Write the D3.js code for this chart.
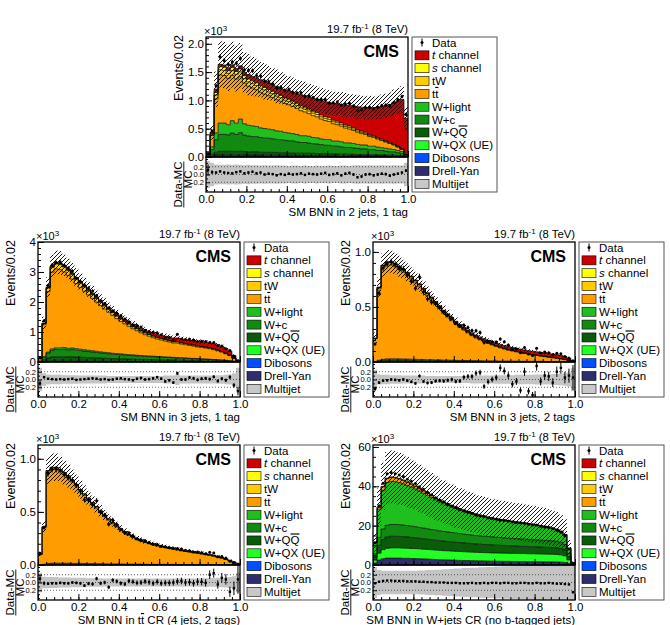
<!DOCTYPE html>
<html>
<head>
<meta charset="utf-8">
<script src="https://cdn.jsdelivr.net/npm/d3@7"></script>
<style>
  body { margin: 0; background: #fff; }
  svg { font-family: "Liberation Sans", Arial, sans-serif; }
</style>
</head>
<body>
<svg id="chart" width="670" height="625"></svg>
<script>
// ---------- categories / legend ----------
const compKeys = ["tch", "sch", "tw", "tt", "wlight", "wc", "wqq", "wqx", "vv", "dy", "qcd"];
const compColors = ["#cc0000", "#ffff00", "#ffcc00", "#ff9d00", "#1fbf1f", "#128a12", "#0a5c0a", "#22ff22", "#0050ff", "#2e2e6e", "#c8c8c8"];
const legendLabels = [
  [["Data"]], [["t", "i"], [" channel"]], [["s", "i"], [" channel"]], [["tW"]], [["t"], ["t", "o"]],
  [["W+light"]], [["W+c"]], [["W+Q"], ["Q", "o"]], [["W+QX (UE)"]], [["Dibosons"]], [["Drell-Yan"]], [["Multijet"]]
];
const xTicks = [0, 0.2, 0.4, 0.6, 0.8, 1.0];
const ratioTicks = [-0.2, 0, 0.2];

// ---------- panel 1: 2 jets, 1 tag (events per bin) ----------
const p1_tch = [5,20,60,40,40,45,45,50,55,60,80,80,90,105,110,115,120,130,135,145,150,155,170,195,200,215,230,235,260,265,270,300,310,330,355,365,385,405,425,435,475,490,535,575,620,670,730,800,870,640];
const p1_sch = [2,15,45,55,55,52,55,50,52,50,48,48,46,45,44,43,42,41,40,39,38,37,36,35,34,33,32,31,30,29,28,27,26,25,24,23,22,21,20,19,18,17,16,15,14,13,12,10,8,2];
const p1_tw = [3,20,70,92,90,88,87,84,83,80,78,77,74,72,71,68,66,65,62,60,59,56,54,53,50,48,47,44,42,41,38,36,35,32,30,29,26,24,23,20,18,17,14,12,11,9,8,6,4,1];
const p1_tt = [15,200,600,850,840,820,800,780,750,720,690,670,650,630,610,590,570,550,530,510,500,480,460,440,420,400,385,370,350,335,320,305,290,275,260,245,230,215,200,185,170,155,140,125,110,95,80,60,40,12];
const p1_wlight = [10,50,120,200,200,180,220,200,240,200,190,190,180,170,170,160,160,150,150,140,140,130,130,120,120,120,110,110,100,100,100,90,90,90,80,80,80,70,70,70,60,60,60,50,50,50,40,40,30,10];
const p1_wc = [10,80,220,300,300,290,320,300,330,290,280,270,270,260,250,250,240,230,230,220,210,210,200,190,190,180,170,170,160,150,150,140,140,130,120,120,110,110,100,100,90,90,80,80,70,60,60,50,40,10];
const p1_wqq = [5,30,50,60,60,60,62,60,62,60,55,55,55,50,50,50,50,50,45,45,45,45,40,40,40,40,40,35,35,35,35,30,30,30,30,30,30,25,25,25,25,25,20,20,20,20,20,15,15,5];
const p1_dy = [5,20,35,40,40,40,40,38,38,37,36,35,35,34,33,32,32,31,30,30,29,28,28,27,26,26,25,24,24,23,22,22,21,20,20,19,19,18,18,17,16,16,15,15,14,13,12,11,10,4];
const p1_ratio = [0.12,0.06,0.05,0.08,0.05,0.04,0.03,0.06,0.08,0.03,0.05,0.07,0.03,0.05,0.0,0.02,0.01,-0.02,0.01,-0.01,0.02,0.0,0.01,0.03,-0.01,0.02,0.01,0.0,0.02,0.04,-0.01,0.01,0.03,-0.02,0.02,0.04,0.0,-0.07,-0.05,0.0,0.01,-0.02,0.0,0.02,0.01,-0.03,0.0,0.02,0.05,0.1];
const p1_unc = [0.35,0.3,0.26,0.25,0.25,0.26,0.25,0.26,0.25,0.24,0.25,0.24,0.24,0.23,0.24,0.23,0.23,0.24,0.23,0.23,0.22,0.23,0.23,0.22,0.23,0.22,0.22,0.23,0.22,0.22,0.23,0.22,0.22,0.23,0.23,0.22,0.23,0.24,0.23,0.23,0.24,0.23,0.23,0.24,0.23,0.23,0.24,0.23,0.23,0.3];

// ---------- panel 2: 3 jets, 1 tag ----------
const p2_tch = [2,10,20,25,25,30,30,30,30,35,35,35,40,40,40,45,45,50,50,55,55,60,65,70,70,75,80,85,90,95,100,105,110,115,120,125,130,135,140,150,155,160,165,170,170,165,155,130,90,25];
const p2_sch = [1,8,15,20,22,22,22,21,21,20,20,19,18,18,17,17,16,16,15,15,14,14,13,13,12,12,12,11,11,11,10,10,10,10,9,9,9,9,8,8,8,8,7,7,7,6,5,4,3,1];
const p2_tw = [3,40,120,160,170,170,165,160,155,150,140,135,128,120,115,108,100,95,90,85,80,76,72,68,64,60,57,54,51,48,46,44,42,40,39,37,35,34,32,31,29,27,25,23,21,19,16,12,7,2];
const p2_tt = [116,1067,2015,2560,2633,2608,2523,2432,2298,2171,2059,1952,1843,1748,1642,1541,1448,1350,1264,1164,1081,1014,946,873,818,756,703,660,613,580,557,532,504,480,486,457,442,427,410,387,383,367,350,327,297,265,219,173,95,25];
const p2_wlight = [3,20,40,50,55,55,55,52,52,50,48,46,44,42,40,38,36,34,32,30,29,28,27,26,25,24,23,22,21,20,19,18,17,16,15,15,14,13,12,12,11,10,10,9,8,7,6,5,3,1];
const p2_wc = [10,80,160,220,240,240,250,235,245,230,220,210,200,190,180,170,160,155,145,140,135,125,120,115,110,105,100,95,95,90,85,80,80,75,70,68,65,60,58,55,50,48,45,40,36,32,27,20,12,3];
const p2_wqq = [10,60,110,140,150,150,150,145,145,140,135,130,125,120,115,110,105,100,95,92,88,85,80,78,75,72,70,68,65,62,60,58,55,52,50,48,45,42,40,38,35,32,30,27,24,20,17,12,7,2];
const p2_dy = [5,15,20,25,25,25,25,25,24,24,23,23,22,22,21,21,20,20,19,19,18,18,17,17,16,16,15,15,14,14,13,13,12,12,11,11,10,10,10,9,9,8,8,7,7,6,5,4,3,1];
const p2_ratio = [-0.1,0.06,0.02,0.01,0.0,0.01,0.0,0.01,0.02,-0.01,0.0,0.01,0.02,0.03,0.02,0.0,0.01,-0.01,0.0,0.02,0.03,0.01,0.0,-0.02,0.02,0.04,0.0,0.01,0.03,0.06,0.02,-0.05,-0.02,-0.08,0.16,0.0,0.0,0.05,0.03,-0.01,0.02,0.03,0.01,0.07,-0.04,0.02,-0.02,0.06,-0.15,-0.3];
const p2_unc = [0.3,0.16,0.13,0.12,0.12,0.12,0.11,0.11,0.11,0.11,0.1,0.1,0.1,0.1,0.1,0.1,0.1,0.09,0.09,0.09,0.09,0.09,0.09,0.09,0.09,0.09,0.09,0.09,0.09,0.09,0.09,0.1,0.1,0.1,0.14,0.1,0.1,0.1,0.1,0.1,0.1,0.1,0.1,0.1,0.11,0.11,0.12,0.13,0.16,0.3];

// ---------- panel 3: 3 jets, 2 tags ----------
const p3_tch = [0,2,3,4,4,5,5,5,6,6,6,7,7,8,8,9,10,10,11,12,13,14,15,16,17,18,19,20,21,22,23,24,25,26,26,27,27,28,28,29,29,30,30,30,30,29,27,24,17,5];
const p3_sch = [0,2,4,5,5,5,5,5,5,4,4,4,4,4,4,3,3,3,3,3,3,3,2,2,2,2,2,2,2,2,2,2,2,2,2,1,1,1,1,1,1,1,1,1,1,1,1,1,1,0];
const p3_tw = [3,12,18,20,20,20,19,19,18,17,17,16,15,15,14,13,12,12,11,10,10,9,8,8,7,7,6,6,6,5,5,5,5,4,4,4,4,4,3,3,3,3,3,3,3,2,2,2,1,0];
const p3_tt = [208,648,831,853,852,836,812,789,759,728,693,660,621,582,543,506,466,428,393,359,329,300,276,251,227,206,190,174,158,145,133,121,110,100,92,85,79,71,65,58,53,47,43,39,34,30,24,18,13,5];
const p3_wc = [2,8,12,14,14,14,14,13,13,12,12,11,11,10,10,9,9,8,8,8,7,7,7,6,6,6,5,5,5,5,4,4,4,4,4,3,3,3,3,3,3,3,2,2,2,2,2,1,1,0];
const p3_wqq = [2,8,12,14,15,15,15,14,14,13,13,12,12,11,11,10,10,9,9,8,8,7,7,7,6,6,6,5,5,5,5,4,4,4,4,4,3,3,3,3,3,3,3,2,2,2,2,2,1,0];
const p3_ratio = [-0.24,-0.08,-0.03,-0.02,0.0,-0.01,-0.02,0.0,-0.03,-0.06,-0.1,0.09,-0.05,-0.09,-0.08,-0.04,-0.03,-0.04,-0.02,0.0,-0.05,-0.04,0.06,0.08,0.08,0.16,0.18,-0.18,-0.06,0.0,0.05,0.3,0.22,0.1,-0.12,-0.05,-0.28,0.2,-0.3,-0.4,0.35,-0.05,0.1,0.08,-0.08,0.2,0.3,0.05,0.1,0.05];
const p3_unc = [0.25,0.13,0.12,0.12,0.11,0.11,0.11,0.1,0.1,0.1,0.1,0.1,0.1,0.09,0.09,0.09,0.09,0.09,0.09,0.09,0.09,0.09,0.09,0.09,0.1,0.1,0.1,0.1,0.1,0.1,0.11,0.11,0.11,0.11,0.11,0.12,0.12,0.12,0.12,0.12,0.13,0.13,0.13,0.13,0.14,0.14,0.15,0.16,0.18,0.3];

// ---------- panel 4: ttbar CR (4 jets, 2 tags) ----------
const p4_tch = [0,1,1,1,1,1,2,2,2,2,2,2,2,3,3,3,3,3,3,4,4,4,4,4,5,5,5,5,5,6,6,6,6,6,6,7,7,7,7,7,7,7,7,7,7,6,6,5,3,1];
const p4_tw = [2,6,16,18,18,18,17,17,16,15,14,14,13,12,11,11,10,9,9,8,8,7,7,6,6,6,5,5,5,5,5,4,4,4,4,4,4,4,3,3,3,3,3,3,3,2,2,2,1,0];
const p4_tt = [96,347,858,884,884,864,834,804,767,728,679,640,602,562,524,484,446,413,378,348,319,296,271,252,231,216,205,194,184,173,164,157,149,142,136,128,123,117,112,106,100,93,86,78,69,61,49,36,22,7];
const p4_wc = [1,3,8,9,9,9,9,9,8,8,8,7,7,7,6,6,6,5,5,5,5,4,4,4,4,4,4,3,3,3,3,3,3,3,3,3,2,2,2,2,2,2,2,2,2,2,2,1,1,0];
const p4_wqq = [1,3,7,8,8,8,8,8,7,7,7,7,6,6,6,6,5,5,5,5,4,4,4,4,4,4,3,3,3,3,3,3,3,3,2,2,2,2,2,2,2,2,2,2,2,1,1,1,1,0];
const p4_ratio = [0.1,-0.02,-0.03,-0.02,-0.02,-0.01,-0.02,-0.02,0.0,-0.01,-0.02,-0.08,-0.03,-0.04,0.1,-0.02,0.0,-0.12,0.06,0.03,-0.02,-0.04,0.04,0.02,-0.01,0.0,0.03,0.01,-0.02,0.02,-0.02,-0.01,-0.01,0.0,0.03,0.04,0.0,0.01,-0.02,0.02,0.02,-0.01,0.2,0.24,-0.05,0.12,0.08,-0.24,-0.15,0.08];
const p4_unc = [0.25,0.15,0.14,0.14,0.14,0.13,0.13,0.13,0.12,0.12,0.12,0.12,0.11,0.11,0.11,0.11,0.1,0.1,0.1,0.1,0.1,0.1,0.1,0.1,0.1,0.1,0.1,0.1,0.1,0.1,0.1,0.1,0.1,0.1,0.1,0.1,0.1,0.1,0.1,0.1,0.11,0.11,0.11,0.11,0.12,0.12,0.13,0.14,0.16,0.25];

// ---------- panel 5: W+jets CR (no b-tagged jets) ----------
const p5_tw = [30,120,250,300,300,290,280,270,260,250,240,230,220,210,200,190,180,170,160,150,145,140,135,130,125,120,115,110,105,100,95,90,85,80,80,75,75,70,70,65,60,60,55,55,50,50,45,40,20,5];
const p5_tt = [200,1000,1800,2000,2000,1950,1850,1700,1550,1400,1300,1200,1100,1000,950,900,850,800,750,700,650,620,590,560,530,500,480,460,440,420,400,380,360,340,320,300,290,280,270,260,250,240,230,220,210,200,180,150,80,10];
const p5_wlight = [5570,14380,19650,21700,21900,21760,21370,20930,20440,19950,19210,18470,17730,16990,16200,15410,14720,14080,13540,12950,12505,11990,11575,11160,10745,10430,10005,9730,9405,9230,9005,8780,8655,8530,8400,8225,8135,7900,7760,7575,7440,7200,6915,6625,6290,5900,5475,4860,2600,435];
const p5_wc = [1600,4000,5300,5900,6000,6000,5950,5900,5800,5700,5600,5500,5400,5300,5200,5100,5000,4900,4800,4700,4650,4550,4500,4400,4350,4250,4200,4150,4100,4050,4000,3950,3900,3850,3800,3750,3700,3650,3650,3600,3550,3500,3450,3450,3400,3350,3150,2850,1600,200];
const p5_wqq = [1600,4000,5200,5800,5900,5900,5850,5800,5700,5600,5500,5400,5300,5200,5100,5000,4900,4850,4750,4700,4600,4550,4450,4400,4300,4250,4200,4150,4100,4050,4000,3950,3900,3850,3800,3750,3700,3700,3650,3600,3550,3500,3500,3450,3400,3350,3200,2900,1600,200];
const p5_wqx = [1500,3500,4600,5000,5200,5200,5200,5200,5150,5100,5050,5000,4950,4900,4850,4800,4750,4700,4650,4600,4550,4500,4450,4400,4350,4300,4300,4250,4250,4200,4200,4150,4150,4100,4100,4100,4050,4050,4000,4000,4000,3950,3950,3900,3900,3850,3700,3400,1900,250];
const p5_dy = [1000,2500,3200,3500,3500,3500,3500,3400,3400,3300,3300,3200,3100,3000,2900,2800,2700,2600,2550,2500,2400,2350,2300,2250,2200,2150,2100,2050,2000,1950,1900,1900,1850,1850,1800,1800,1750,1750,1700,1700,1650,1650,1600,1600,1550,1500,1450,1300,700,100];
const p5_ratio = [-0.02,0.02,0.04,0.05,0.05,0.04,0.04,0.04,0.03,0.03,0.03,0.02,0.02,0.01,0.01,0.0,0.0,0.0,-0.01,-0.01,-0.01,-0.02,-0.02,-0.02,-0.01,-0.02,-0.02,-0.01,-0.02,-0.01,-0.01,-0.02,-0.01,-0.01,-0.02,-0.02,-0.01,-0.01,-0.02,-0.02,-0.01,-0.02,-0.02,-0.01,-0.02,-0.03,-0.03,-0.04,-0.05,-0.25];
const p5_unc = [0.4,0.32,0.3,0.3,0.3,0.3,0.3,0.3,0.3,0.3,0.3,0.31,0.31,0.32,0.32,0.33,0.33,0.34,0.34,0.35,0.36,0.36,0.37,0.37,0.38,0.38,0.39,0.39,0.4,0.4,0.41,0.41,0.42,0.42,0.43,0.43,0.44,0.44,0.45,0.45,0.46,0.46,0.47,0.47,0.48,0.48,0.49,0.5,0.5,0.5];

// ---------- layout ----------
const nBins = 50, binW = 0.02;
const W = 202, H = 120, RH = 35;
const colorOf = {};
compKeys.forEach((k, i) => colorOf[k] = compColors[i]);
const stackOrder = compKeys.slice().reverse();   // multijet at the bottom, t channel on top

const panels = [
  { left: 206, top: 37, ymax: 2.12, yticks: [0, 0.5, 1, 1.5, 2], yminor: 0.1, yfmt: d => d.toFixed(1),
    title: [["SM BNN in 2 jets, 1 tag"]],
    comps: { tch: p1_tch, sch: p1_sch, tw: p1_tw, tt: p1_tt, wlight: p1_wlight, wc: p1_wc, wqq: p1_wqq, dy: p1_dy },
    ratio: p1_ratio, unc: p1_unc },
  { left: 38, top: 242, ymax: 4.0, yticks: [0, 1, 2, 3, 4], yminor: 0.2, yfmt: d => d.toFixed(0),
    title: [["SM BNN in 3 jets, 1 tag"]],
    comps: { tch: p2_tch, sch: p2_sch, tw: p2_tw, tt: p2_tt, wlight: p2_wlight, wc: p2_wc, wqq: p2_wqq, dy: p2_dy },
    ratio: p2_ratio, unc: p2_unc },
  { left: 373, top: 242, ymax: 1.09, yticks: [0, 0.5, 1], yminor: 0.1, yfmt: d => d.toFixed(1),
    title: [["SM BNN in 3 jets, 2 tags"]],
    comps: { tch: p3_tch, sch: p3_sch, tw: p3_tw, tt: p3_tt, wc: p3_wc, wqq: p3_wqq },
    ratio: p3_ratio, unc: p3_unc },
  { left: 38, top: 445, ymax: 1.13, yticks: [0, 0.5, 1], yminor: 0.1, yfmt: d => d.toFixed(1),
    title: [["SM BNN in t"], ["t", "o"], [" CR (4 jets, 2 tags)"]],
    comps: { tch: p4_tch, tw: p4_tw, tt: p4_tt, wc: p4_wc, wqq: p4_wqq },
    ratio: p4_ratio, unc: p4_unc },
  { left: 373, top: 445, ymax: 61, yticks: [0, 20, 40, 60], yminor: 5, yfmt: d => d.toFixed(0),
    title: [["SM BNN in W+jets CR (no b-tagged jets)"]],
    comps: { tw: p5_tw, tt: p5_tt, wlight: p5_wlight, wc: p5_wc, wqq: p5_wqq, wqx: p5_wqx, dy: p5_dy },
    ratio: p5_ratio, unc: p5_unc }
];

const svg = d3.select("#chart");
const defs = svg.append("defs");
defs.append("pattern").attr("id", "hatch").attr("patternUnits", "userSpaceOnUse")
    .attr("width", 4).attr("height", 4)
  .append("path").attr("d", "M-1,1 l2,-2 M0,4 l4,-4 M3,5 l2,-2")
    .attr("stroke", "#000").attr("stroke-width", 0.9);

function richText(sel, parts) {
  parts.forEach(([t, s]) => {
    const ts = sel.append("tspan").text(t);
    if (s === "i") ts.attr("font-style", "italic");
    if (s === "o") ts.style("text-decoration", "overline");
  });
}

function styleAxis(ax, size) {
  ax.select(".domain").remove();
  ax.attr("font-size", size).attr("font-family", null);
  ax.selectAll("line").attr("stroke-width", 1);
}

function drawPanel(p, n) {
  const g = svg.append("g").attr("transform", `translate(${p.left},${p.top})`);
  const x = d3.scaleLinear().domain([0, 1]).range([0, W]);
  const y = d3.scaleLinear().domain([0, p.ymax]).range([H, 0]);
  const yr = d3.scaleLinear().domain([-0.45, 0.45]).range([H + RH, H]);

  defs.append("clipPath").attr("id", "cm" + n).append("rect").attr("width", W).attr("height", H);
  defs.append("clipPath").attr("id", "cr" + n).append("rect").attr("y", H).attr("width", W).attr("height", RH);

  const keys = stackOrder.filter(k => p.comps[k]);
  const rows = d3.range(nBins).map(i => {
    const r = {};
    keys.forEach(k => r[k] = p.comps[k][i] / 1000);
    return r;
  });
  const series = d3.stack().keys(keys)(rows);
  const total = rows.map(r => d3.sum(keys, k => r[k]));
  const edges = d3.range(nBins + 1);
  const at = (arr, i) => arr[Math.min(i, nBins - 1)];
  const ex = i => x(i * binW);

  // stacked histograms
  const main = g.append("g").attr("clip-path", `url(#cm${n})`);
  series.forEach(s => {
    main.append("path").datum(edges)
      .attr("fill", colorOf[s.key])
      .attr("d", d3.area().curve(d3.curveStepAfter).x(ex)
        .y0(i => y(at(s, i)[0])).y1(i => y(at(s, i)[1])));
  });
  series.forEach(s => {
    main.append("path").datum(edges)
      .attr("fill", "none").attr("stroke", "#000").attr("stroke-width", 0.7)
      .attr("d", d3.line().curve(d3.curveStepAfter).x(ex).y(i => y(at(s, i)[1])));
  });

  // uncertainty band
  main.append("path").datum(edges)
    .attr("fill", "url(#hatch)")
    .attr("d", d3.area().curve(d3.curveStepAfter).x(ex)
      .y0(i => y(at(total, i) * (1 - at(p.unc, i))))
      .y1(i => y(at(total, i) * (1 + at(p.unc, i)))));

  // data points
  const dataVals = total.map((t, i) => t * (1 + p.ratio[i]));
  const dataErr = dataVals.map(v => Math.sqrt(v * 1000) / 1000);
  const pts = main.selectAll(".pt").data(d3.range(nBins)).enter().append("g");
  pts.append("line")
    .attr("x1", i => x((i + 0.5) * binW)).attr("x2", i => x((i + 0.5) * binW))
    .attr("y1", i => y(dataVals[i] - dataErr[i])).attr("y2", i => y(dataVals[i] + dataErr[i]))
    .attr("stroke", "#000").attr("stroke-width", 1);
  pts.append("circle")
    .attr("cx", i => x((i + 0.5) * binW)).attr("cy", i => y(dataVals[i]))
    .attr("r", 1.5).attr("fill", "#000");

  // ratio panel
  const rp = g.append("g").attr("clip-path", `url(#cr${n})`);
  rp.append("path").datum(edges)
    .attr("fill", "#c4c4c4")
    .attr("d", d3.area().curve(d3.curveStepAfter).x(ex)
      .y0(i => yr(-at(p.unc, i))).y1(i => yr(at(p.unc, i))));
  rp.selectAll(".ref").data(ratioTicks).enter().append("line")
    .attr("x1", 0).attr("x2", W).attr("y1", d => yr(d)).attr("y2", d => yr(d))
    .attr("stroke", "#000").attr("stroke-width", 0.6).attr("stroke-dasharray", "1,2");
  const rerr = dataErr.map((e, i) => e / total[i]);
  const rpts = rp.selectAll(".rpt").data(d3.range(nBins)).enter().append("g");
  rpts.append("line")
    .attr("x1", i => x((i + 0.5) * binW)).attr("x2", i => x((i + 0.5) * binW))
    .attr("y1", i => yr(p.ratio[i] - rerr[i])).attr("y2", i => yr(p.ratio[i] + rerr[i]))
    .attr("stroke", "#000").attr("stroke-width", 1);
  rpts.append("rect")
    .attr("x", i => x((i + 0.5) * binW) - 1.2).attr("y", i => yr(p.ratio[i]) - 1.2)
    .attr("width", 2.4).attr("height", 2.4).attr("fill", "#000");

  // axes
  styleAxis(g.append("g").call(d3.axisLeft(y).tickValues(d3.range(0, p.ymax, p.yminor)).tickSize(-3).tickFormat("")), 11);
  styleAxis(g.append("g").call(d3.axisLeft(y).tickValues(p.yticks).tickSize(-6).tickPadding(2).tickFormat(p.yfmt)), 11.5);
  styleAxis(g.append("g").call(d3.axisLeft(yr).tickValues([-0.4, -0.3, -0.1, 0.1, 0.3, 0.4]).tickSize(-2).tickFormat("")), 7.5);
  styleAxis(g.append("g").call(d3.axisLeft(yr).tickValues(ratioTicks).tickSize(-4).tickPadding(2).tickFormat(d => d.toFixed(1))), 7.5);
  const xMinor = d3.range(0.04, 1, 0.04);
  [H, H + RH].forEach(yy => {
    styleAxis(g.append("g").attr("transform", `translate(0,${yy})`)
      .call(d3.axisBottom(x).tickValues(xMinor).tickSize(-3).tickFormat("")), 11);
  });
  styleAxis(g.append("g").attr("transform", `translate(0,${H})`)
    .call(d3.axisBottom(x).tickValues(xTicks).tickSize(-6).tickFormat("")), 11);
  styleAxis(g.append("g").attr("transform", `translate(0,${H + RH})`)
    .call(d3.axisBottom(x).tickValues(xTicks).tickSize(-6).tickPadding(3).tickFormat(d => d.toFixed(1))), 11.5);

  // frames
  g.append("rect").attr("width", W).attr("height", H)
    .attr("fill", "none").attr("stroke", "#000").attr("stroke-width", 1.3);
  g.append("rect").attr("y", H).attr("width", W).attr("height", RH)
    .attr("fill", "none").attr("stroke", "#000").attr("stroke-width", 1.3);

  // texts
  const sc = g.append("text").attr("x", -2).attr("y", -2).attr("font-size", 11).text("\u00d710");
  sc.append("tspan").attr("dy", -4).attr("font-size", 8).text("3");
  const lumi = g.append("text").attr("x", W).attr("y", -4).attr("text-anchor", "end").attr("font-size", 11.3).text("19.7 fb");
  lumi.append("tspan").attr("dy", -4).attr("font-size", 8).text("-1");
  lumi.append("tspan").attr("dy", 4).text(" (8 TeV)");
  g.append("text").attr("x", W - 9).attr("y", 20).attr("text-anchor", "end")
    .attr("font-size", 16).attr("font-weight", "bold").text("CMS");
  g.append("text").attr("transform", `translate(-23,-2) rotate(-90)`)
    .attr("text-anchor", "end").attr("font-size", 12.5).text("Events/0.02");
  const rt = g.append("g").attr("transform", `translate(-24,${H + RH / 2 + 10}) rotate(-90)`);
  rt.append("text").attr("text-anchor", "middle").attr("font-size", 11.5).text("Data-MC");
  rt.append("line").attr("x1", -23).attr("x2", 23).attr("y1", 1.8).attr("y2", 1.8)
    .attr("stroke", "#000").attr("stroke-width", 0.9);
  rt.append("text").attr("x", 5).attr("y", 10).attr("text-anchor", "middle").attr("font-size", 11.5).text("MC");
  const xt = g.append("text").attr("x", W).attr("y", H + RH + 24).attr("text-anchor", "end").attr("font-size", 11.5);
  richText(xt, p.title);

  // legend
  const lg = svg.append("g").attr("transform", `translate(${p.left + W + 4},${p.top})`);
  lg.append("rect").attr("width", 85).attr("height", H + RH)
    .attr("fill", "#fff").attr("stroke", "#555").attr("stroke-width", 1);
  legendLabels.forEach((lab, j) => {
    const cy = 5.5 + j * 12.85;
    if (j === 0) {
      lg.append("line").attr("x1", 10).attr("x2", 10).attr("y1", cy - 4).attr("y2", cy + 4)
        .attr("stroke", "#000").attr("stroke-width", 1);
      lg.append("circle").attr("cx", 10).attr("cy", cy).attr("r", 1.5).attr("fill", "#000");
    } else {
      lg.append("rect").attr("x", 3).attr("y", cy - 4.5).attr("width", 14).attr("height", 9)
        .attr("fill", compColors[j - 1]).attr("stroke", "#000").attr("stroke-width", 0.6);
    }
    const t = lg.append("text").attr("x", 20).attr("y", cy + 4).attr("font-size", 11.5);
    richText(t, lab);
  });
}

panels.forEach((p, n) => drawPanel(p, n));
</script>
</body>
</html>
